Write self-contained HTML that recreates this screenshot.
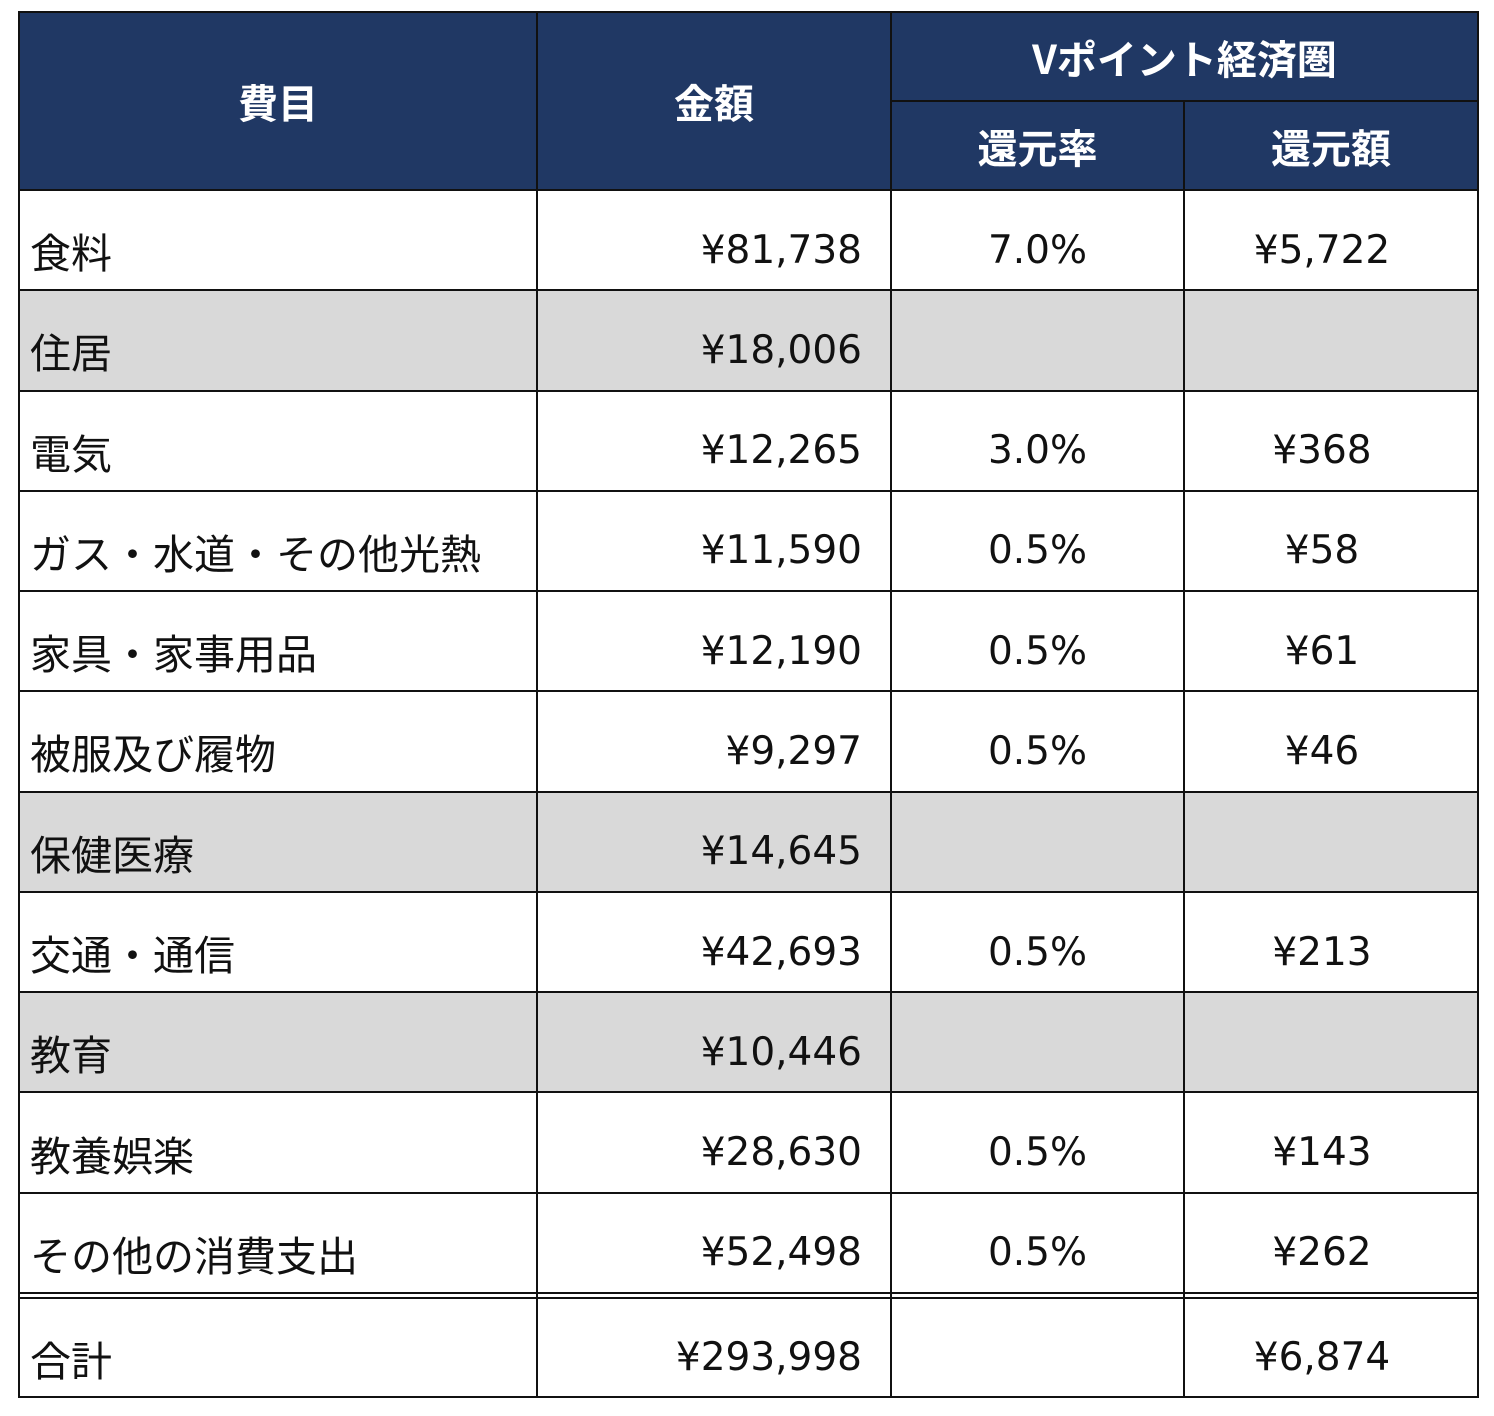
<!DOCTYPE html>
<html><head><meta charset="utf-8">
<style>
html,body{margin:0;padding:0;background:#fff;width:1494px;height:1416px;overflow:hidden;}
#t{position:absolute;left:0;top:0;width:1494px;height:1416px;font-family:"DejaVu Sans","Noto Sans CJK JP",sans-serif;}
.c{position:absolute;box-sizing:border-box;display:flex;align-items:center;font-size:39px;color:#111;padding-top:20px;white-space:nowrap;}
.j{font-family:"Noto Sans CJK JP",sans-serif;font-size:41px;}
.h{background:#203864;color:#fff;font-weight:bold;justify-content:center;padding-top:0;font-size:40px;}
.ln{position:absolute;background:#111;}
</style></head><body>
<div id="t"></div>
<script>
const categories=["食料","住居","電気","ガス・水道・その他光熱","家具・家事用品","被服及び履物","保健医療","交通・通信","教育","教養娯楽","その他の消費支出"];
const amounts=["¥81,738","¥18,006","¥12,265","¥11,590","¥12,190","¥9,297","¥14,645","¥42,693","¥10,446","¥28,630","¥52,498"];
const rates=["7.0%","","3.0%","0.5%","0.5%","0.5%","","0.5%","","0.5%","0.5%"];
const rewards=["¥5,722","","¥368","¥58","¥61","¥46","","¥213","","¥143","¥262"];
const grayRows=[1,6,8];
const totalAmount="¥293,998";
const totalReward="¥6,874";
const t=document.getElementById('t');
const X=[19,537,891,1184,1478];
function cell(x,y,w,h,txt,cls,align,name){
  const d=document.createElement('div');
  d.className='c '+(cls||'');
  d.style.left=x+'px';d.style.top=y+'px';d.style.width=w+'px';d.style.height=h+'px';
  if(align==='l'){d.style.justifyContent='flex-start';d.style.paddingLeft='11px';}
  if(align==='r'){d.style.justifyContent='flex-end';d.style.paddingRight='29px';}
  if(align==='c'){d.style.justifyContent='center';}
  if(align==='c2'){d.style.justifyContent='center';d.style.paddingRight='18px';}
  d.textContent=txt;
  
  
  t.appendChild(d);return d;
}
function line(x,y,w,h){
  const d=document.createElement('div');d.className='ln';
  d.style.left=x+'px';d.style.top=y+'px';d.style.width=w+'px';d.style.height=h+'px';
  
  
  t.appendChild(d);
}
cell(X[0],12,X[1]-X[0],178,"費目",'h j','c','header-category');
cell(X[1],12,X[2]-X[1],178,"金額",'h j','c','header-amount');
cell(X[2],12,X[4]-X[2],89,"Vポイント経済圏",'h j','c','header-vpoint');
cell(X[2],101,X[3]-X[2],89,"還元率",'h j','c','header-rate');
cell(X[3],101,X[4]-X[3],89,"還元額",'h j','c','header-reward');
const top0=190,rh=(1293-190)/categories.length;
categories.forEach((c,i)=>{
  const y=top0+i*rh;
  const g=grayRows.indexOf(i)>=0;
  for(let k=0;k<4;k++){
    const txt=[c,amounts[i],rates[i],rewards[i]][k];
    const el=cell(X[k],y,X[k+1]-X[k],rh,txt,k===0?'j':'',['l','r','c','c2'][k],['category','amount','rate','reward'][k]+'-'+(i+1));
    if(g) el.style.background='#d9d9d9';
  }
});
cell(X[0],1298,X[1]-X[0],99,"合計",'j','l','total-label');
cell(X[1],1298,X[2]-X[1],99,totalAmount,'','r','total-amount');
cell(X[2],1298,X[3]-X[2],99,"",'','c','total-rate');
cell(X[3],1298,X[4]-X[3],99,totalReward,'','c2','total-reward');
line(X[0]-1,11,X[4]-X[0]+2,2);
line(X[2],100,X[4]-X[2],2);
for(let i=0;i<=categories.length;i++){line(X[0]-1,Math.round(top0+i*rh)-1,X[4]-X[0]+2,2);}
line(X[0]-1,1297,X[4]-X[0]+2,2);
line(X[0]-1,1396,X[4]-X[0]+2,2);
X.forEach((x,k)=>{
  if(k===3){line(x-1,101,2,1296);}
  else line(x-1,11,2,1387);
});
</script>
</body></html>
